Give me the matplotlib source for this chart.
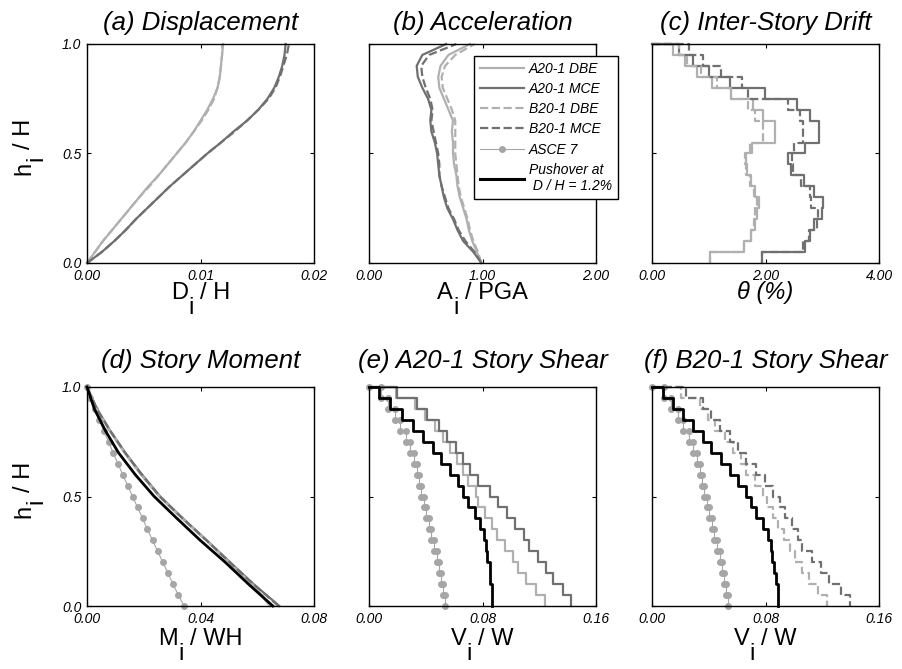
import numpy as np
import matplotlib
matplotlib.use("Agg")
import matplotlib.pyplot as plt
from matplotlib.lines import Line2D
from matplotlib.transforms import offset_copy

plt.rcParams['font.family'] = ['Liberation Sans', 'DejaVu Sans']

# ---- data (h_i / H from 0 at base to 1 at roof) ----
h_fine = np.linspace(0, 1, 21)     # 20-story building, floor levels
h_coarse = np.linspace(0, 1, 11)

# (a) peak floor displacement D_i / H
disp_A_DBE = [0, 0.0007, 0.0014, 0.0022, 0.0030, 0.0038, 0.0046, 0.0054, 0.0063, 0.0071, 0.0079,
              0.0087, 0.0094, 0.0100, 0.0106, 0.0111, 0.0115, 0.0117, 0.0118, 0.0119, 0.0120]
disp_B_DBE = [0, 0.0007, 0.0014, 0.0022, 0.0030, 0.0038, 0.0046, 0.0055, 0.0063, 0.0071, 0.0079,
              0.0087, 0.0094, 0.0101, 0.0107, 0.0112, 0.0115, 0.0117, 0.0118, 0.0119, 0.0119]
disp_A_MCE = [0, 0.0013, 0.0024, 0.0034, 0.0043, 0.0053, 0.0063, 0.0073, 0.0084, 0.0095, 0.0106,
              0.0118, 0.0129, 0.0141, 0.0151, 0.0159, 0.0165, 0.0169, 0.0172, 0.0174, 0.0175]
disp_B_MCE = [0, 0.0013, 0.0024, 0.0034, 0.0043, 0.0053, 0.0063, 0.0073, 0.0084, 0.0095, 0.0106,
              0.0118, 0.0130, 0.0141, 0.0151, 0.0160, 0.0166, 0.0170, 0.0173, 0.0176, 0.0178]

# (b) peak floor acceleration A_i / PGA
acc_A_DBE = [0.99, 0.95, 0.91, 0.88, 0.86, 0.83, 0.80, 0.78, 0.77, 0.75, 0.74,
             0.74, 0.73, 0.74, 0.70, 0.66, 0.62, 0.61, 0.63, 0.70, 0.89]
acc_B_DBE = [0.99, 0.96, 0.92, 0.89, 0.87, 0.84, 0.81, 0.79, 0.78, 0.77, 0.76,
             0.76, 0.76, 0.76, 0.73, 0.69, 0.65, 0.64, 0.67, 0.76, 0.93]
acc_A_MCE = [0.99, 0.92, 0.83, 0.78, 0.74, 0.69, 0.66, 0.64, 0.62, 0.61, 0.60,
             0.58, 0.55, 0.54, 0.55, 0.52, 0.47, 0.43, 0.42, 0.47, 0.68]
acc_B_MCE = [0.99, 0.93, 0.85, 0.79, 0.75, 0.70, 0.67, 0.64, 0.62, 0.62, 0.61,
             0.59, 0.57, 0.55, 0.56, 0.54, 0.50, 0.47, 0.46, 0.53, 0.77]

# (c) inter-story drift (%), story 1 (bottom) .. story 20 (top)
drift_A_DBE = [1.02, 1.62, 1.74, 1.82, 1.85, 1.88, 1.82, 1.74, 1.68, 1.66,
               1.76, 2.16, 2.16, 1.96, 1.78, 1.40, 1.05, 0.80, 0.58, 0.37]
drift_B_DBE = [1.02, 1.62, 1.74, 1.80, 1.82, 1.85, 1.80, 1.72, 1.66, 1.64,
               1.72, 1.96, 1.96, 1.82, 1.70, 1.40, 1.15, 0.87, 0.62, 0.48]
drift_A_MCE = [1.93, 2.69, 2.78, 2.86, 3.00, 3.02, 2.85, 2.68, 2.45, 2.40,
               2.69, 2.95, 2.95, 2.78, 2.55, 1.99, 1.37, 1.00, 0.72, 0.48]
drift_B_MCE = [1.93, 2.66, 2.76, 2.90, 2.92, 2.80, 2.78, 2.62, 2.48, 2.46,
               2.50, 2.66, 2.66, 2.60, 2.40, 1.70, 1.58, 1.22, 0.90, 0.66]

# (d) story moment M_i / WH at h = 0, 0.1, ..., 1.0
mom_A_DBE = [0.0645, 0.0580, 0.0500, 0.0420, 0.0335, 0.0255, 0.0190, 0.0132, 0.0080, 0.0034, 0.0]
mom_B_DBE = [0.0650, 0.0582, 0.0501, 0.0421, 0.0336, 0.0256, 0.0191, 0.0133, 0.0081, 0.0034, 0.0]
mom_A_MCE = [0.0678, 0.0587, 0.0504, 0.0422, 0.0338, 0.0258, 0.0194, 0.0135, 0.0082, 0.0035, 0.0]
mom_B_MCE = [0.0675, 0.0586, 0.0503, 0.0421, 0.0337, 0.0257, 0.0193, 0.0134, 0.0082, 0.0035, 0.0]
mom_push = [0.0655, 0.0569, 0.0487, 0.0399, 0.0317, 0.0237, 0.0170, 0.0111, 0.0065, 0.0026, 0.0]
# ASCE 7 moment at every floor level (h = 0 .. 1)
mom_asce = [0.0342, 0.0322, 0.0303, 0.0285, 0.0267, 0.0249, 0.0231, 0.0213, 0.0196, 0.0178, 0.0161,
            0.0143, 0.0126, 0.0109, 0.0092, 0.0076, 0.0059, 0.0043, 0.0027, 0.0012, 0.0]

# (e), (f) story shear V_i / W, story 1 .. story 20
shear_asce = [0.0535, 0.0525, 0.0510, 0.0495, 0.0480, 0.0460, 0.0440, 0.0425, 0.0400, 0.0385,
              0.0370, 0.0355, 0.0335, 0.0315, 0.0290, 0.0260, 0.0220, 0.0180, 0.0135, 0.0085]
shear_A_DBE = [0.124, 0.118, 0.111, 0.105, 0.1015, 0.096, 0.090, 0.0865, 0.082, 0.077,
               0.0755, 0.070, 0.0665, 0.062, 0.057, 0.052, 0.0465, 0.0395, 0.0325, 0.019]
shear_A_MCE = [0.1427, 0.137, 0.130, 0.125, 0.119, 0.113, 0.109, 0.103, 0.097, 0.091,
               0.085, 0.0765, 0.0715, 0.0665, 0.061, 0.055, 0.049, 0.041, 0.034, 0.0195]
shear_A_push = [0.087, 0.087, 0.085, 0.085, 0.083, 0.0825, 0.081, 0.078, 0.0745, 0.070,
                0.0665, 0.0625, 0.057, 0.051, 0.045, 0.038, 0.031, 0.023, 0.015, 0.0073]
shear_B_DBE = [0.1232, 0.117, 0.111, 0.106, 0.101, 0.097, 0.093, 0.089, 0.0855, 0.081,
               0.078, 0.0723, 0.0664, 0.063, 0.057, 0.0512, 0.0441, 0.0394, 0.0336, 0.0207]
shear_B_MCE = [0.1398, 0.1333, 0.125, 0.119, 0.113, 0.106, 0.103, 0.0985, 0.094, 0.090,
               0.0852, 0.0793, 0.0735, 0.0664, 0.0605, 0.0547, 0.0476, 0.0418, 0.0359, 0.0242]
shear_B_push = [0.0887, 0.0885, 0.0875, 0.0863, 0.0848, 0.084, 0.082, 0.078, 0.0735, 0.070,
                0.0664, 0.0605, 0.0547, 0.0488, 0.0418, 0.0359, 0.029, 0.0218, 0.0148, 0.0077]

xlabels_a = ['0.00', '0.01', '0.02']
xlabels_b = ['0.00', '1.00', '2.00']
xlabels_c = ['0.00', '2.00', '4.00']
xlabels_d = ['0.00', '0.04', '0.08']
xlabels_ef = ['0.00', '0.08', '0.16']
ylabels = ['0.0', '0.5', '1.0']

# axis labels as (text, subscript-lowered) pieces
lab_h = [('h', False), ('i', True), (' / H', False)]
lab_D = [('D', False), ('i', True), (' / H', False)]
lab_A = [('A', False), ('i', True), (' / PGA', False)]
lab_M = [('M', False), ('i', True), (' / WH', False)]
lab_V = [('V', False), ('i', True), (' / W', False)]

LIGHT = '#b0b0b0'
DARK = '#707070'
ASCE = '#a6a6a6'
LW = 1.6
LABEL_SIZE = 17
TITLE_SIZE = 18.5

fig = plt.figure(figsize=(9.03, 6.69), dpi=100)
renderer = fig.canvas.get_renderer()


def ink_width(s, size):
    t = fig.text(0, 0, s, fontsize=size)
    w = t.get_window_extent(renderer=renderer).width
    t.remove()
    return w


def sub_label(ax, parts, x, y, vertical=False, size=LABEL_SIZE):
    # MATLAB-like label where the subscript hangs well below the baseline
    full = ''.join(p for p, _ in parts)
    total = ink_width(full, size)
    drop = (0.5 if vertical else 0.62) * size * fig.dpi / 72
    prefix = ''
    for s, low in parts:
        prefix += s
        start = ink_width(prefix, size) - ink_width(s.strip(), size) - total / 2
        if vertical:
            tr = offset_copy(ax.transAxes, fig=fig, x=drop if low else 0, y=start, units='dots')
            ax.text(x, y, s.strip(), transform=tr, rotation=90, rotation_mode='anchor',
                    ha='left', va='baseline', fontsize=size)
        else:
            tr = offset_copy(ax.transAxes, fig=fig, x=start, y=-drop if low else 0, units='dots')
            ax.text(x, y, s.strip(), transform=tr, ha='left', va='baseline', fontsize=size)


def stairs(vals):
    # story values -> step line from the roof (starting at x=0) down to the base
    n = len(vals)
    xs, ys = [0.0], [1.0]
    for k in range(n - 1, -1, -1):
        xs += [vals[k], vals[k]]
        ys += [(k + 1) / n, k / n]
    return xs, ys


def style(ax, xmax, xlabels, title, xlabel, left, top_row):
    ax.set_xlim(0, xmax)
    ax.set_ylim(0, 1)
    ax.set_xticks([0, xmax / 2, xmax])
    ax.set_xticklabels(xlabels, fontsize=10, fontstyle='italic')
    ax.set_yticks([0, 0.5, 1])
    if left:
        ax.set_yticklabels(ylabels, fontsize=10, fontstyle='italic')
        sub_label(ax, lab_h, -0.25, 0.53, vertical=True)
    else:
        ax.set_yticklabels([])
    ax.tick_params(direction='in', length=3, width=0.8, top=True, right=True, pad=4)
    for s in ax.spines.values():
        s.set_linewidth(1.0)
    ybase = -0.165 if top_row else -0.18
    if isinstance(xlabel, str):
        ax.text(0.5, ybase, xlabel, transform=ax.transAxes, ha='center', va='baseline',
                fontsize=LABEL_SIZE, fontstyle='italic')
    else:
        sub_label(ax, xlabel, 0.5, ybase)
    ax.set_title(title, fontsize=TITLE_SIZE, fontstyle='italic', pad=10 if top_row else 13.5)


W, H = 903.0, 669.0
lefts = [87, 369, 652]
bottoms = [263, 606]
axes = [[fig.add_axes([l / W, (H - b) / H, 227 / W, 219 / H]) for l in lefts] for b in bottoms]
ax_a, ax_b, ax_c = axes[0]
ax_d, ax_e, ax_f = axes[1]

kw = dict(clip_on=False)

# (a) Displacement
ax_a.plot(disp_A_DBE, h_fine, color=LIGHT, lw=LW, **kw)
ax_a.plot(disp_A_MCE, h_fine, color=DARK, lw=LW, **kw)
ax_a.plot(disp_B_DBE, h_fine, color=LIGHT, lw=LW, ls='--', **kw)
ax_a.plot(disp_B_MCE, h_fine, color=DARK, lw=LW, ls='--', **kw)
style(ax_a, 0.02, xlabels_a, '(a) Displacement', lab_D, True, True)

# (b) Acceleration
ax_b.plot(acc_A_DBE, h_fine, color=LIGHT, lw=LW, **kw)
ax_b.plot(acc_A_MCE, h_fine, color=DARK, lw=LW, **kw)
ax_b.plot(acc_B_DBE, h_fine, color=LIGHT, lw=LW, ls='--', **kw)
ax_b.plot(acc_B_MCE, h_fine, color=DARK, lw=LW, ls='--', **kw)
style(ax_b, 2.0, xlabels_b, '(b) Acceleration', lab_A, False, True)

handles = [
    Line2D([], [], color=LIGHT, lw=LW),
    Line2D([], [], color=DARK, lw=LW),
    Line2D([], [], color=LIGHT, lw=LW, ls='--'),
    Line2D([], [], color=DARK, lw=LW, ls='--'),
    Line2D([], [], color=ASCE, lw=0.8, marker='o', ms=4),
    Line2D([], [], color='black', lw=2.2),
]
names = ['A20-1 DBE', 'A20-1 MCE', 'B20-1 DBE', 'B20-1 MCE', 'ASCE 7', 'Pushover at\n D / H = 1.2%']
leg = ax_b.legend(handles, names, loc='upper left', bbox_to_anchor=(0.4626, 0.945),
                  borderaxespad=0, fancybox=False, framealpha=1, edgecolor='black',
                  prop={'size': 10, 'style': 'italic'}, handlelength=3.2,
                  handletextpad=0.35, labelspacing=0.45, borderpad=0.4)
leg.get_frame().set_linewidth(1.0)

# (c) Inter-story drift
for vals, col, ls in [(drift_A_DBE, LIGHT, '-'), (drift_A_MCE, DARK, '-'),
                      (drift_B_DBE, LIGHT, '--'), (drift_B_MCE, DARK, '--')]:
    xs, ys = stairs(vals)
    ax_c.plot(xs, ys, color=col, lw=LW, ls=ls, **kw)
style(ax_c, 4.0, xlabels_c, '(c) Inter-Story Drift', 'θ (%)', False, True)

# (d) Story moment
ax_d.plot(mom_asce, h_fine, color=ASCE, lw=0.8, marker='o', ms=4, **kw)
ax_d.plot(mom_A_DBE, h_coarse, color=LIGHT, lw=LW, **kw)
ax_d.plot(mom_A_MCE, h_coarse, color=DARK, lw=LW, **kw)
ax_d.plot(mom_B_DBE, h_coarse, color=LIGHT, lw=LW, ls='--', **kw)
ax_d.plot(mom_B_MCE, h_coarse, color=DARK, lw=LW, ls='--', **kw)
ax_d.plot(mom_push, h_coarse, color='black', lw=2.0, **kw)
style(ax_d, 0.08, xlabels_d, '(d) Story Moment', lab_M, True, False)

# (e) A20-1 story shear
xs, ys = stairs(shear_asce)
ax_e.plot(xs, ys, color=ASCE, lw=0.8, marker='o', ms=4, **kw)
for vals, col in [(shear_A_DBE, LIGHT), (shear_A_MCE, DARK), (shear_A_push, 'black')]:
    xs, ys = stairs(vals)
    ax_e.plot(xs, ys, color=col, lw=2.0 if col == 'black' else LW, **kw)
style(ax_e, 0.16, xlabels_ef, '(e) A20-1 Story Shear', lab_V, False, False)

# (f) B20-1 story shear
xs, ys = stairs(shear_asce)
ax_f.plot(xs, ys, color=ASCE, lw=0.8, marker='o', ms=4, **kw)
for vals, col, ls in [(shear_B_DBE, LIGHT, '--'), (shear_B_MCE, DARK, '--'), (shear_B_push, 'black', '-')]:
    xs, ys = stairs(vals)
    ax_f.plot(xs, ys, color=col, ls=ls, lw=2.0 if col == 'black' else LW, **kw)
style(ax_f, 0.16, xlabels_ef, '(f) B20-1 Story Shear', lab_V, False, False)

fig.savefig('out.png', dpi=100)
